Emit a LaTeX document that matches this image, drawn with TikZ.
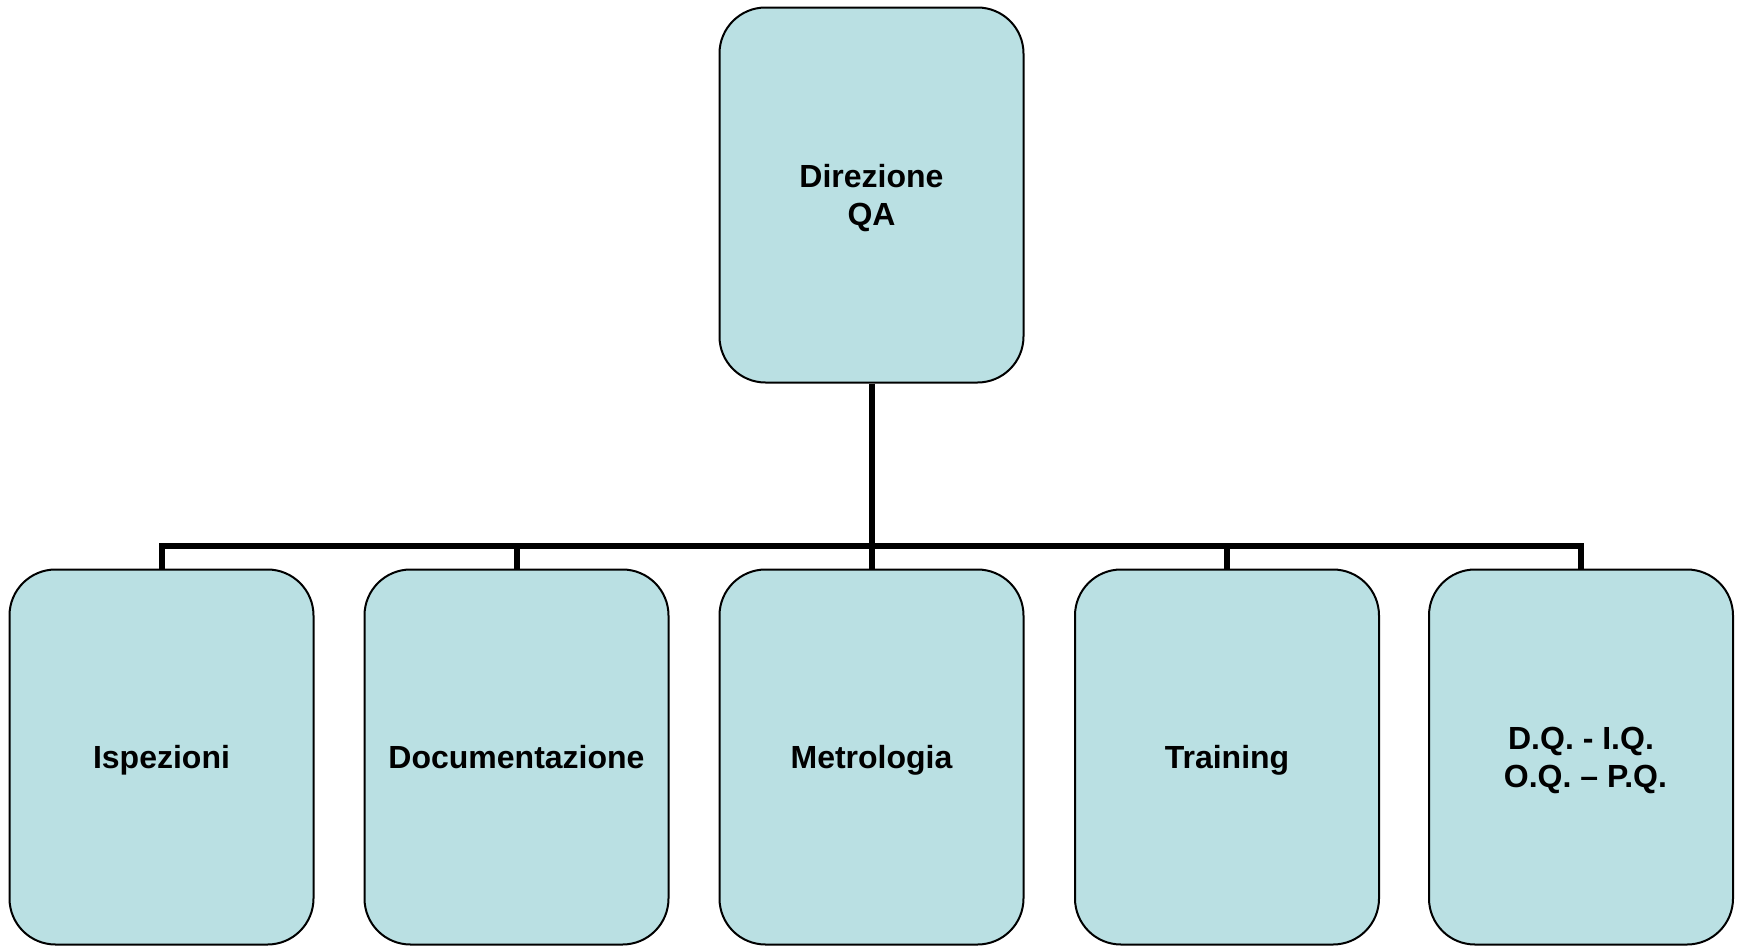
\documentclass[tikz,border=0pt]{standalone}
\usepackage{fontspec}
\setmainfont{Liberation Sans}
% invisible rule that gives every line the same height and depth,
% so labels are centred on their capital letters
\newcommand\capstrut{\vrule height 29.5pt depth 6.5pt width 0pt}
\begin{document}
\begin{tikzpicture}[x=1pt,y=-1pt,
  unitbox/.style={draw=black,line width=2pt,fill=boxfill,rounded corners=46pt,
    minimum width=304pt,minimum height=375pt,inner sep=0pt,align=center,
    font=\fontsize{32pt}{38.5pt}\selectfont\bfseries},
  link/.style={line width=6pt,line join=miter,line cap=butt}]
\definecolor{boxfill}{RGB}{186,224,227}
\useasboundingbox (0,0) rectangle (1741,946);
% head of the department
\node[unitbox] (top) at (871.5,195) {\capstrut Direzione\\\capstrut QA};
% sections
\node[unitbox] (c1) at (161.5,757) {\capstrut Ispezioni};
\node[unitbox] (c2) at (516.5,757) {\capstrut Documentazione};
\node[unitbox] (c3) at (871.5,757) {\capstrut Metrologia};
\node[unitbox] (c4) at (1227,757) {\capstrut Training};
\node[unitbox] (c5) at (1581,757) {\capstrut D.Q. - I.Q.\\\capstrut\ O.Q. -- P.Q.};
% bus line
\coordinate (bus) at (871.5,546);
\draw[link] (top.south) -- (bus);
\draw[link] (c1.north) -- (c1.north |- bus) -- (c5.north |- bus) -- (c5.north);
\draw[link] (bus -| c2.north) -- (c2.north);
\draw[link] (bus) -- (c3.north);
\draw[link] (bus -| c4.north) -- (c4.north);
\end{tikzpicture}
\end{document}
